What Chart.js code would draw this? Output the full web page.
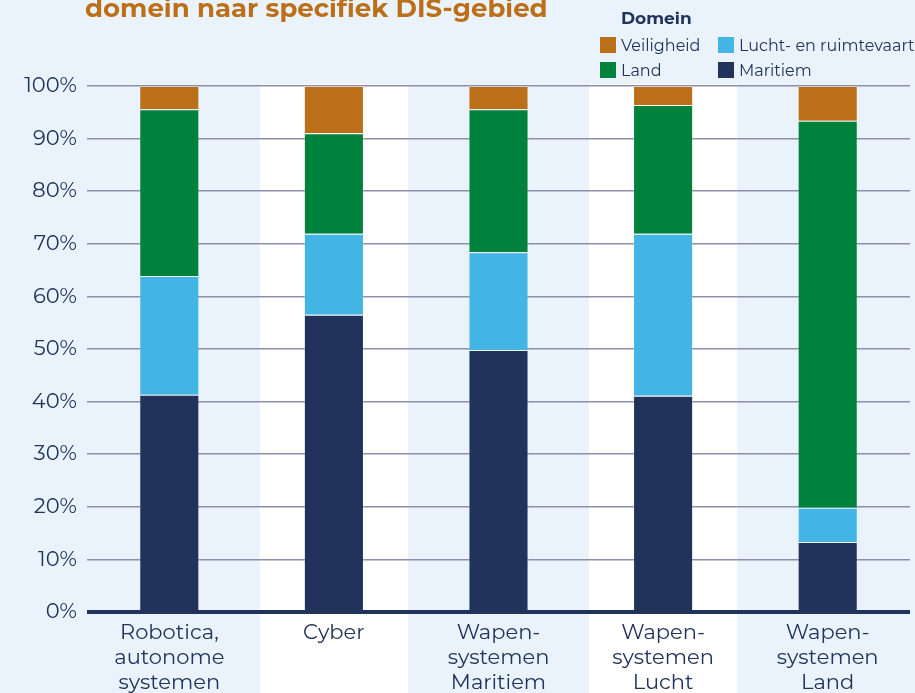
<!DOCTYPE html>
<html>
<head>
<meta charset="utf-8">
<script src="https://cdn.jsdelivr.net/npm/chart.js@4"></script>
<style>
  html, body { margin: 0; padding: 0; background: #eaf3fb; }
  #wrap { position: relative; width: 915px; height: 693px; overflow: hidden; }
  #title { position: absolute; left: 85px; top: -8px; font: bold 26px 'Montserrat', 'Noto Sans', sans-serif; color: #bb6f18; white-space: nowrap; }
  #legend { position: absolute; left: 600px; top: 8px; font-family: 'Montserrat', 'Noto Sans', sans-serif; color: #21335b; }
  #legend .hd { margin-left: 21px; font-weight: bold; font-size: 17px; height: 28px; }
  #legend .grid { display: grid; grid-template-columns: 118px auto; row-gap: 7px; }
  #legend .it { display: flex; align-items: center; font-size: 16px; height: 18px; }
  #legend .sw { width: 16px; height: 16px; margin-right: 5px; }
</style>
</head>
<body>
<div id="wrap">
  <canvas id="chart" width="915" height="693"></canvas>
  <div id="title">domein naar specifiek DIS-gebied</div>
  <div id="legend"><div class="hd">Domein</div><div class="grid" id="legendItems"></div></div>
</div>
<script>
const categories = [['Robotica,', 'autonome', 'systemen'], 'Cyber', ['Wapen-', 'systemen', 'Maritiem'], ['Wapen-', 'systemen', 'Lucht'], ['Wapen-', 'systemen', 'Land']];
const maritiem = [41.3, 56.5, 49.8, 41.1, 13.3];
const lucht = [22.6, 15.4, 18.6, 30.8, 6.5];
const land = [31.7, 19.1, 27.2, 24.5, 73.6];
const veiligheid = [4.4, 9.0, 4.4, 3.6, 6.6];
const yTicks = [0, 10, 20, 30, 40, 50, 60, 70, 80, 90, 100];

const navy = '#21335b';
const font = "'Montserrat', 'Noto Sans', sans-serif";

// achtergrond + witte banden achter categorie 2 en 4
const bands = {
  id: 'bands',
  beforeDraw(chart) {
    const ctx = chart.ctx, x = chart.scales.x, area = chart.chartArea;
    ctx.save();
    ctx.fillStyle = '#eaf3fb';
    ctx.fillRect(0, 0, chart.width, chart.height);
    const w = (area.right - area.left) / categories.length * 0.9;
    ctx.fillStyle = '#ffffff';
    [1, 3].forEach(i => {
      const c = x.getPixelForValue(i);
      ctx.fillRect(c - w / 2, area.top - 2, w, chart.height);
    });
    ctx.restore();
  }
};

const chart = new Chart(document.getElementById('chart'), {
  type: 'bar',
  data: {
    labels: categories,
    datasets: [
      { label: 'Maritiem', data: maritiem, backgroundColor: '#21335b' },
      { label: 'Lucht- en ruimtevaart', data: lucht, backgroundColor: '#42b5e5' },
      { label: 'Land', data: land, backgroundColor: '#00813c' },
      { label: 'Veiligheid', data: veiligheid, backgroundColor: '#bb6f18' }
    ]
  },
  options: {
    responsive: false,
    animation: false,
    layout: { padding: { top: 86, left: 10, right: 5, bottom: 0 } },
    datasets: {
      bar: { categoryPercentage: 1, barPercentage: 0.365, borderWidth: 1, borderColor: 'rgba(255,255,255,0.2)' }
    },
    plugins: { legend: { display: false }, title: { display: false }, tooltip: { enabled: false } },
    scales: {
      x: {
        stacked: true,
        grid: { display: false },
        border: { display: false },
        afterFit: s => { s.height = 81; },
        ticks: { color: navy, padding: 0, maxRotation: 0, autoSkip: false, font: { family: font, size: 21, lineHeight: 1.2 } }
      },
      y: {
        stacked: true,
        min: 0,
        max: 100,
        afterFit: s => { s.width = 77; },
        afterBuildTicks: s => { s.ticks = yTicks.map(v => ({ value: v })); },
        border: { display: false },
        grid: {
          drawTicks: false,
          color: c => c.tick.value === 0 ? navy : '#8e8eab',
          lineWidth: c => c.tick.value === 0 ? 4 : 1.5
        },
        ticks: { color: navy, padding: 10, font: { family: font, size: 21 }, callback: v => v + '%' }
      }
    }
  },
  plugins: [bands]
});

// legenda in dezelfde volgorde als het origineel
const order = ['Veiligheid', 'Lucht- en ruimtevaart', 'Land', 'Maritiem'];
const box = document.getElementById('legendItems');
order.forEach(name => {
  const ds = chart.data.datasets.find(d => d.label === name);
  const it = document.createElement('div');
  it.className = 'it';
  it.innerHTML = '<span class="sw" style="background:' + ds.backgroundColor + '"></span>' + ds.label;
  box.appendChild(it);
});
</script>
</body>
</html>
